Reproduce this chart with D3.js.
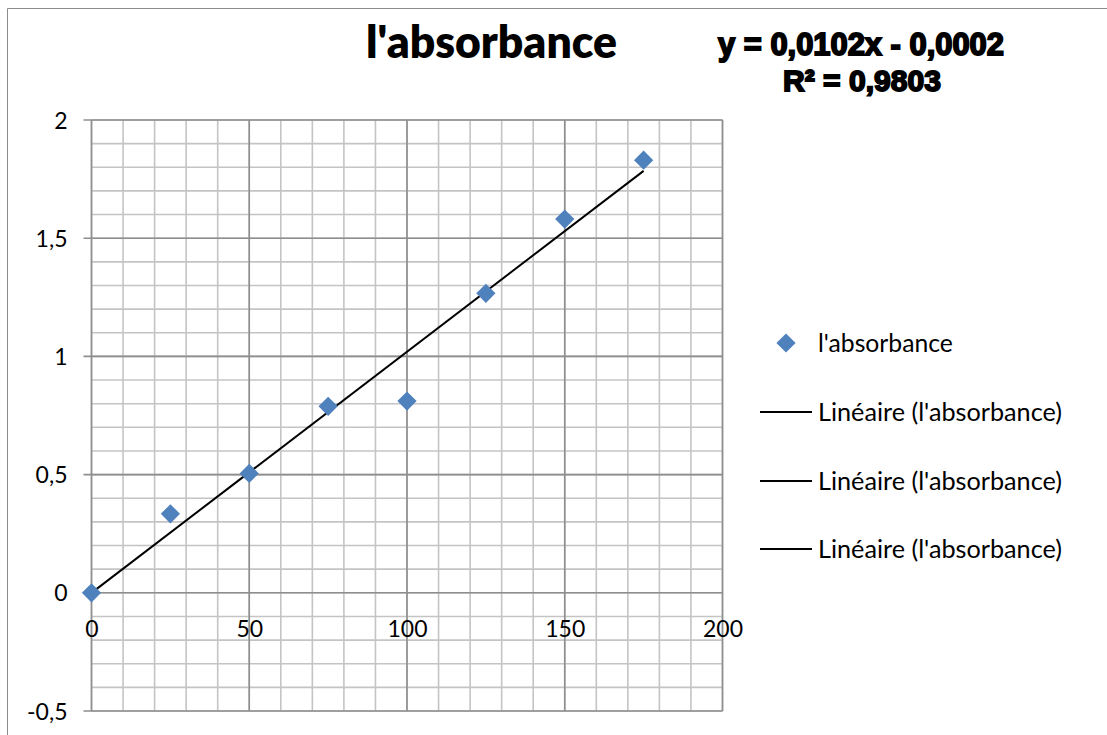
<!DOCTYPE html>
<html><head><meta charset="utf-8">
<script src="https://cdn.jsdelivr.net/npm/d3@7"></script>
<style>html,body{margin:0;padding:0;background:#fff;}svg{display:block;}</style>
</head><body>
<script>
const concentrations = [0, 25, 50, 75, 100, 125, 150, 175];
const absorbance = [0, 0.334, 0.505, 0.789, 0.811, 1.267, 1.581, 1.830];
const trendCoef = { slope: 0.0102, intercept: -0.0002 };
const xTicks = [0, 50, 100, 150, 200];
const yTicks = [-0.5, 0, 0.5, 1, 1.5, 2];
const title = "l'absorbance";
const equationLines = ["y = 0,0102x - 0,0002", "R² = 0,9803"];
const legendLabels = ["l'absorbance", "Linéaire (l'absorbance)", "Linéaire (l'absorbance)", "Linéaire (l'absorbance)"];

const W = 1107, H = 735;
const svg = d3.select("body").append("svg").attr("width", W).attr("height", H);
const fmt = d => String(d).replace(".", ",");
const font = "Lato, 'Open Sans', sans-serif";

function fit(sel, target) {
  const w = sel.node().getComputedTextLength();
  const fs = parseFloat(sel.attr("font-size"));
  sel.attr("font-size", fs * target / w);
}

// chart border
svg.append("path").attr("d", `M7.5,${H} V8.5 H${W}`).attr("fill", "none").attr("stroke", "#8c8c8c").attr("stroke-width", 1);

const x = d3.scaleLinear().domain([0, 200]).range([91.5, 722.5]);
const y = d3.scaleLinear().domain([-0.5, 2]).range([711, 120]);

const g = svg.append("g");
// minor grid
const xMinor = d3.range(0, 201, 10), yMinor = d3.range(-5, 21).map(d => d / 10);
g.selectAll(".vmin").data(xMinor).join("line")
  .attr("x1", d => x(d)).attr("x2", d => x(d)).attr("y1", y(2)).attr("y2", y(-0.5))
  .attr("stroke", "#c4c4c4").attr("stroke-width", 1.6);
g.selectAll(".hmin").data(yMinor).join("line")
  .attr("y1", d => y(d)).attr("y2", d => y(d)).attr("x1", x(0)).attr("x2", x(200))
  .attr("stroke", "#c4c4c4").attr("stroke-width", 1.6);
// major grid
g.selectAll(".vmaj").data(xTicks).join("line")
  .attr("x1", d => x(d)).attr("x2", d => x(d)).attr("y1", y(2)).attr("y2", y(-0.5))
  .attr("stroke", "#8e8e8e").attr("stroke-width", 1.6);
g.selectAll(".hmaj").data(yTicks).join("line")
  .attr("y1", d => y(d)).attr("y2", d => y(d)).attr("x1", x(0) - 8).attr("x2", x(200))
  .attr("stroke", "#8e8e8e").attr("stroke-width", 1.6);

// axes via d3 (labels only)
const yAxis = d3.axisLeft(y).tickValues(yTicks).tickFormat(fmt).tickSize(0).tickPadding(24);
const ya = svg.append("g").attr("transform", `translate(${x(0)},0)`).call(yAxis);
ya.select(".domain").remove();
ya.selectAll("text").attr("font-family", font).attr("font-size", 23).attr("fill", "#000").attr("dy", "0.35em");

const xAxis = d3.axisBottom(x).tickValues(xTicks).tickFormat(fmt).tickSize(0).tickPadding(0);
const xa = svg.append("g").attr("transform", `translate(0,${y(0)})`).call(xAxis);
xa.select(".domain").remove();
xa.selectAll("text").attr("font-family", font).attr("font-size", 23).attr("fill", "#000").attr("dy", null).attr("y", 44);

// trendline
const tl = [0, 175];
svg.append("line")
  .attr("x1", x(tl[0])).attr("y1", y(trendCoef.slope * tl[0] + trendCoef.intercept))
  .attr("x2", x(tl[1])).attr("y2", y(trendCoef.slope * tl[1] + trendCoef.intercept))
  .attr("stroke", "#000").attr("stroke-width", 2);

// points
const diamond = d3.symbol().type(d3.symbolSquare).size(185);
svg.selectAll(".pt").data(concentrations).join("path")
  .attr("d", diamond)
  .attr("transform", (d, i) => `translate(${x(d)},${y(absorbance[i])}) rotate(45)`)
  .attr("fill", "#4f81bd");

// title
const t = svg.append("text").attr("x", 491.5).attr("y", 58).attr("text-anchor", "middle")
  .attr("font-family", font).attr("font-weight", 800).attr("font-size", 40).text(title);
fit(t, 251);

// equation
const eqCx = [861, 862];
const eqY = [55, 91];
equationLines.forEach((s, i) => {
  const e = svg.append("text").attr("x", eqCx[i]).attr("y", eqY[i]).attr("text-anchor", "middle")
    .attr("font-family", "'Liberation Sans', Arial, sans-serif").attr("font-weight", 700)
    .attr("font-size", 22).attr("stroke", "#000").attr("stroke-width", 1.8).text(s);
  fit(e, i === 0 ? 286 : 158);
});

// legend
const lg = svg.append("g");
const ly = [343, 412, 481, 549];
legendLabels.forEach((s, i) => {
  if (i === 0) {
    lg.append("path").attr("d", diamond).attr("transform", `translate(786,${ly[i]}) rotate(45)`).attr("fill", "#4f81bd");
  } else {
    lg.append("line").attr("x1", 760).attr("x2", 812).attr("y1", ly[i]).attr("y2", ly[i]).attr("stroke", "#000").attr("stroke-width", 2);
  }
  const tx = lg.append("text").attr("x", 818).attr("y", ly[i]).attr("dy", "0.35em")
    .attr("font-family", font).attr("font-size", 22).text(s);
  fit(tx, i === 0 ? 135 : 244);
});
</script>
</body></html>
